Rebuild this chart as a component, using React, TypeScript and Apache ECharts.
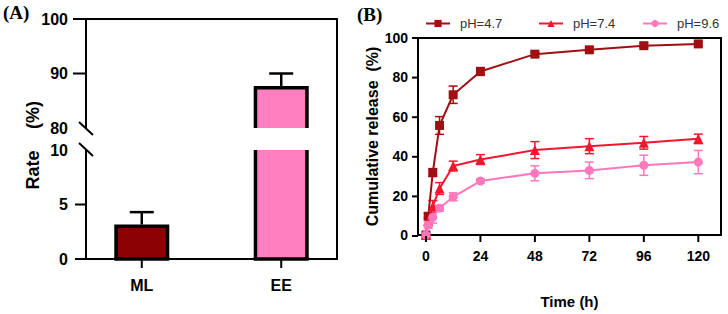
import React, { useEffect, useRef } from "react";
import * as echarts from "echarts";

// Panel A data
const barCategories = ["ML", "EE"];
const barValues = [3.0, 87.4];
const barErrors = [1.3, 2.6];
const barColors = ["#8B0000", "#FF7FC0"];
const upperLabels = [80, 90, 100];
const upperTicks = [90, 100];
const lowerLabels = [0, 5, 10];
const lowerTicks = [0, 5];

// Panel B data
const times = [0, 1, 3, 6, 12, 24, 48, 72, 96, 120];
const timeTicks = [0, 24, 48, 72, 96, 120];
const releaseTicks = [0, 20, 40, 60, 80, 100];
const ph47 = [0, 9.5, 31.7, 55.6, 71.2, 83.0, 91.8, 94.0, 96.1, 97.0];
const ph47Err = [0, 1.5, 2.0, 4.5, 4.4, 2.0, 1.0, 1.0, 1.0, 1.0];
const ph74 = [0, 7.0, 14.5, 23.6, 35.0, 38.3, 43.1, 45.1, 46.8, 48.8];
const ph74Err = [0, 2.0, 3.0, 3.0, 2.5, 2.5, 4.3, 3.8, 3.2, 2.4];
const ph96 = [0, 5.0, 9.0, 13.6, 19.4, 27.4, 31.3, 32.8, 35.4, 37.0];
const ph96Err = [0, 1.5, 3.0, 1.5, 2.0, 1.0, 3.8, 4.2, 5.1, 5.9];
const seriesNames = ["pH=4.7", "pH=7.4", "pH=9.6"];
const seriesColors = ["#A00F14", "#F5162E", "#FF78BC"];

const FONT = '"Liberation Sans", Arial, sans-serif';

// layout
const A = { left: 86, width: 251, upTop: 19, loTop: 150, segH: 109, xMin: -0.4, xMax: 1.4 };
const B = { left: 418, right: 721, top: 38, bottom: 236, xMin: -3.5, xMax: 130 };

function barRenderer(segMin: number, segMax: number, drawBottom: boolean) {
  return (params: any, api: any) => {
    const i = api.value(0);
    const v = api.value(1);
    const e = api.value(2);
    if (v <= segMin) return null;
    const top = Math.min(v, segMax);
    const c0 = api.coord([i, segMin]);
    const c1 = api.coord([i, top]);
    const hw = 25.75;
    const x = c0[0];
    const children: any[] = [];
    children.push({
      type: "rect",
      shape: { x: x - hw, y: c1[1], width: hw * 2, height: c0[1] - c1[1] },
      style: { fill: barColors[i] },
    });
    const stroke = { stroke: "#000", lineWidth: 3.5, fill: null, lineJoin: "miter" };
    const topVisible = v <= segMax;
    if (topVisible) {
      children.push({
        type: "polyline",
        shape: { points: [[x - hw, c0[1]], [x - hw, c1[1]], [x + hw, c1[1]], [x + hw, c0[1]]] },
        style: stroke,
      });
      const ce = api.coord([i, v + e]);
      const cap = 12;
      children.push({ type: "line", shape: { x1: x, y1: c1[1] - 1.75, x2: x, y2: ce[1] }, style: { stroke: "#000", lineWidth: 2.5 } });
      children.push({ type: "line", shape: { x1: x - cap, y1: ce[1], x2: x + cap, y2: ce[1] }, style: { stroke: "#000", lineWidth: 2.5 } });
    } else {
      children.push({ type: "line", shape: { x1: x - hw, y1: c0[1], x2: x - hw, y2: c1[1] }, style: stroke });
      children.push({ type: "line", shape: { x1: x + hw, y1: c0[1], x2: x + hw, y2: c1[1] }, style: stroke });
    }
    if (drawBottom) {
      children.push({ type: "line", shape: { x1: x - hw - 1.75, y1: c0[1], x2: x + hw + 1.75, y2: c0[1] }, style: stroke });
    }
    return { type: "group", children };
  };
}

function errRenderer(color: string) {
  return (params: any, api: any) => {
    const x = api.value(0);
    const y = api.value(1);
    const e = api.value(2);
    if (!e) return null;
    const p1 = api.coord([x, y + e]);
    const p2 = api.coord([x, y - e]);
    const cw = 4.5;
    const st = { stroke: color, lineWidth: 1.5 };
    return {
      type: "group",
      children: [
        { type: "line", shape: { x1: p1[0], y1: p1[1], x2: p2[0], y2: p2[1] }, style: st },
        { type: "line", shape: { x1: p1[0] - cw, y1: p1[1], x2: p1[0] + cw, y2: p1[1] }, style: st },
        { type: "line", shape: { x1: p2[0] - cw, y1: p2[1], x2: p2[0] + cw, y2: p2[1] }, style: st },
      ],
    };
  };
}

const lin = (v: number, d0: number, d1: number, p0: number, p1: number) => p0 + ((v - d0) / (d1 - d0)) * (p1 - p0);

export default function App() {
  const ref = useRef<HTMLDivElement>(null);
  useEffect(() => {
    document.body.style.margin = "0";
    const chart = echarts.init(ref.current!, null, { renderer: "svg" });
    const barData = barValues.map((v, i) => [i, v, barErrors[i]]);
    const axisLineBlack = { show: true, onZero: false, lineStyle: { color: "#000", width: 2 } };
    const labelA = { fontFamily: FONT, fontWeight: "bold", fontSize: 16, color: "#000" };
    const labelB = { fontFamily: FONT, fontWeight: "bold", fontSize: 14, color: "#000" };
    const lineSeries = [ph47, ph74, ph96];
    const errSeries = [ph47Err, ph74Err, ph96Err];
    const symbols = ["rect", "triangle", "circle"];
    const symbolSizes = [9, 10, 9];
    const legendLefts = [425, 538, 642];

    // axis tick marks (decoration), placed on the axis layout
    const tick = (x1: number, y1: number, x2: number, y2: number) => ({
      type: "line", z: 100, shape: { x1, y1, x2, y2 }, style: { stroke: "#000", lineWidth: 2 },
    });
    const aUpBottom = A.upTop + A.segH;
    const aLoBottom = A.loTop + A.segH;
    const ticks: any[] = [
      ...upperTicks.map((v) => { const y = lin(v, 80, 100, aUpBottom, A.upTop); return tick(A.left - 13, y, A.left, y); }),
      ...lowerTicks.map((v) => { const y = lin(v, 0, 10, aLoBottom, A.loTop); return tick(A.left - 11, y, A.left, y); }),
      ...barCategories.map((_, i) => { const x = lin(i, A.xMin, A.xMax, A.left, A.left + A.width); return tick(x, aLoBottom, x, aLoBottom + 9); }),
      ...timeTicks.map((t) => { const x = lin(t, B.xMin, B.xMax, B.left, B.right); return tick(x, B.bottom, x, B.bottom + 6); }),
      ...releaseTicks.map((v) => { const y = lin(v, 0, 100, B.bottom, B.top); return tick(B.left - 6, y, B.left, y); }),
    ];

    const option: any = {
      animation: false,
      backgroundColor: "#fff",
      grid: [
        { left: A.left, width: A.width, top: A.upTop, height: A.segH },
        { left: A.left, width: A.width, top: A.loTop, height: A.segH },
        { left: A.left, width: A.width, top: A.upTop, height: aLoBottom - A.upTop },
        { left: B.left, width: B.right - B.left, top: B.top, height: B.bottom - B.top, show: true, borderColor: "#000", borderWidth: 2 },
      ],
      xAxis: [
        { gridIndex: 0, type: "value", min: A.xMin, max: A.xMax, show: false },
        {
          gridIndex: 1, type: "value", min: A.xMin, max: A.xMax, position: "bottom",
          axisLine: axisLineBlack, splitLine: { show: false }, axisTick: { show: false },
          axisLabel: {
            ...labelA, margin: 18, customValues: [0, 1],
            formatter: (v: number) => barCategories[Math.round(v)] ?? "",
          },
        },
        {
          gridIndex: 2, type: "value", min: 0, max: 1, position: "top",
          axisLine: axisLineBlack, axisTick: { show: false }, axisLabel: { show: false }, splitLine: { show: false },
        },
        {
          gridIndex: 3, type: "value", min: B.xMin, max: B.xMax, position: "bottom",
          axisLine: axisLineBlack, splitLine: { show: false }, axisTick: { show: false },
          axisLabel: { ...labelB, margin: 14, customValues: timeTicks },
          name: "Time (h)", nameLocation: "middle", nameGap: 59,
          nameTextStyle: { ...labelB, fontSize: 15 },
        },
      ],
      yAxis: [
        {
          gridIndex: 0, type: "value", min: 80, max: 100,
          axisLine: axisLineBlack, splitLine: { show: false }, axisTick: { show: false },
          axisLabel: { ...labelA, margin: 18, customValues: upperLabels },
        },
        {
          gridIndex: 1, type: "value", min: 0, max: 10,
          axisLine: axisLineBlack, splitLine: { show: false }, axisTick: { show: false },
          axisLabel: { ...labelA, margin: 18, customValues: lowerLabels },
        },
        {
          gridIndex: 2, type: "value", min: 0, max: 1, position: "right",
          axisLine: axisLineBlack, axisTick: { show: false }, axisLabel: { show: false }, splitLine: { show: false },
        },
        {
          gridIndex: 3, type: "value", min: 0, max: 100, interval: 20,
          axisLine: axisLineBlack, splitLine: { show: false }, axisTick: { show: false },
          axisLabel: { ...labelB, margin: 10 },
          name: "Cumulative release  (%)", nameLocation: "middle", nameGap: 36,
          nameTextStyle: { ...labelB, fontSize: 16 },
        },
      ],
      legend: seriesNames.map((n, k) => ({
        data: [n], left: legendLefts[k], top: 17, padding: 0,
        itemWidth: 24, itemHeight: 9, itemGap: 6,
        textStyle: { fontFamily: FONT, fontSize: 13, color: "#333", padding: [0, 0, 0, 5] },
      })),
      series: [
        {
          type: "custom", xAxisIndex: 0, yAxisIndex: 0, renderItem: barRenderer(80, 100, false),
          data: barData, encode: { x: 0, y: 1 }, z: 3, clip: false,
        },
        {
          type: "custom", xAxisIndex: 1, yAxisIndex: 1, renderItem: barRenderer(0, 10, true),
          data: barData, encode: { x: 0, y: 1 }, z: 3, clip: false,
        },
        ...errSeries.map((errs, k) => ({
          type: "custom", xAxisIndex: 3, yAxisIndex: 3, renderItem: errRenderer(seriesColors[k]),
          data: times.map((t, i) => [t, lineSeries[k][i], errs[i]]), encode: { x: 0, y: 1 }, z: 2,
        })),
        ...lineSeries.map((vals, k) => ({
          type: "line", name: seriesNames[k], xAxisIndex: 3, yAxisIndex: 3,
          data: times.map((t, i) => [t, vals[i]]),
          symbol: symbols[k], symbolSize: symbolSizes[k],
          itemStyle: { color: seriesColors[k] },
          lineStyle: { color: seriesColors[k], width: 2 },
          z: 3 + k,
        })),
      ],
      graphic: [
        { type: "text", x: 3, y: 12, style: { text: "(A)", font: 'bold 19px "Liberation Serif", serif', fill: "#000", textVerticalAlign: "middle" } },
        { type: "text", x: 357, y: 14, style: { text: "(B)", font: 'bold 19px "Liberation Serif", serif', fill: "#000", textVerticalAlign: "middle" } },
        { type: "line", shape: { x1: 79, y1: 122, x2: 93, y2: 135 }, style: { stroke: "#000", lineWidth: 2 } },
        { type: "line", shape: { x1: 79, y1: 143, x2: 93, y2: 156 }, style: { stroke: "#000", lineWidth: 2 } },
        { type: "text", x: 33, y: 170, rotation: Math.PI / 2, style: { text: "Rate", font: `bold 18px ${FONT}`, fill: "#000", textAlign: "center", textVerticalAlign: "middle" } },
        { type: "text", x: 33, y: 115, rotation: Math.PI / 2, style: { text: "(%)", font: `bold 18px ${FONT}`, fill: "#000", textAlign: "center", textVerticalAlign: "middle" } },
        ...ticks,
      ],
    };
    chart.setOption(option);
    return () => chart.dispose();
  }, []);
  return <div ref={ref} style={{ width: 728, height: 314 }} />;
}
